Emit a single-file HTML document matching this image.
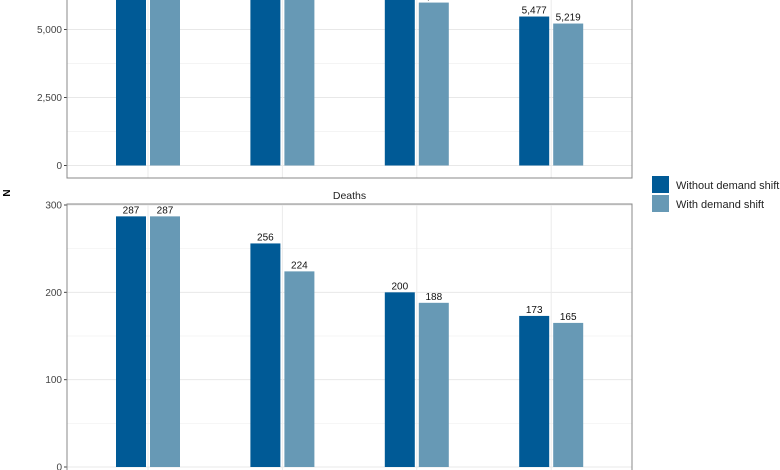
<!DOCTYPE html>
<html><head><meta charset="utf-8"><style>
html,body{margin:0;background:#fff;width:780px;height:470px;overflow:hidden;font-family:"Liberation Sans",sans-serif}
svg{display:block}
svg text{font-family:"Liberation Sans",sans-serif}
</style></head><body>
<svg id="c" width="780" height="470" viewBox="0 0 780 470" overflow="hidden">
<g id="top"></g>
<g id="bot"></g>
<text x="10" y="193" font-size="10" font-weight="bold" transform="rotate(-90 10 193)" text-anchor="middle">N</text>
<g>
<rect x="652" y="176" width="17" height="17" fill="#005a96"/>
<text x="676" y="189" font-size="11" fill="#222">Without demand shift</text>
<rect x="652" y="195" width="17" height="17" fill="#6799b5"/>
<text x="676" y="208" font-size="11" fill="#222">With demand shift</text>
</g>
</svg>
<script>
const categories = ["Scenario 1","Scenario 2","Scenario 3","Scenario 4"];
const topWithout = [7400, 7100, 6600, 5477];
const topWith = [7300, 6800, 5990, 5219];
const topTicks = [0, 2500, 5000];
const botWithout = [287, 256, 200, 173];
const botWith = [287, 224, 188, 165];
const botTicks = [0, 100, 200, 300];

const NS="http://www.w3.org/2000/svg";
const fmt=v=>v.toLocaleString("en-US");
function mk(p,tag,at){const e=document.createElementNS(NS,tag);for(const k in at)e.setAttribute(k,at[k]);p.appendChild(e);return e;}
const xL=67,xR=632;
const xc=i=>148+i*134.4;
function panel(g,top,bottom,y0,pxPer,ticks,minor,a,b){
  const y=v=>y0-v*pxPer;
  const bg=mk(g,"rect",{x:xL,y:top,width:xR-xL,height:bottom-top,fill:"#fff",stroke:"none"});
  
  
  minor.forEach(v=>{const l=mk(g,"line",{x1:xL,x2:xR,y1:y(v),y2:y(v),stroke:"#f0f0f0","stroke-width":0.7});
    
    });
  ticks.forEach(v=>{const l=mk(g,"line",{x1:xL,x2:xR,y1:y(v),y2:y(v),stroke:"#e8e8e8","stroke-width":1});
    
    
    const tk=mk(g,"line",{x1:xL-3,x2:xL,y1:y(v),y2:y(v),stroke:"#444"});
    
    
    const t=mk(g,"text",{x:xL-5,y:y(v)+3.5,"font-size":10,fill:"#444","text-anchor":"end"});t.textContent=fmt(v);
    
    });
  categories.forEach((c,i)=>{const l=mk(g,"line",{x1:xc(i),x2:xc(i),y1:top,y2:bottom,stroke:"#ebebeb"});
    
    });
  [[a,"#005a96",-32],[b,"#6799b5",2]].forEach(([arr,col,off],s)=>{
    arr.forEach((v,i)=>{
      const r=mk(g,"rect",{x:xc(i)+off,y:y(v),width:30,height:y0-y(v),fill:col});
      
      
      const t=mk(g,"text",{x:xc(i)+off+15,y:y(v)-3,"font-size":10,fill:"#111","text-anchor":"middle"});t.textContent=fmt(v);
      
      
    });
  });
  const bd=mk(g,"rect",{x:xL,y:top,width:xR-xL,height:bottom-top,fill:"none",stroke:"#888","stroke-width":1});
  
  
}
panel(document.getElementById("top"),-2,178,165.5,68/2500,topTicks,[1250,3750],topWithout,topWith);
panel(document.getElementById("bot"),204,472,467,0.8733,botTicks,[50,150,250],botWithout,botWith);
const st=mk(document.getElementById("bot"),"text",{x:349.5,y:199,"font-size":10.5,fill:"#222","text-anchor":"middle"});
st.textContent="Deaths";


</script>
</body></html>
